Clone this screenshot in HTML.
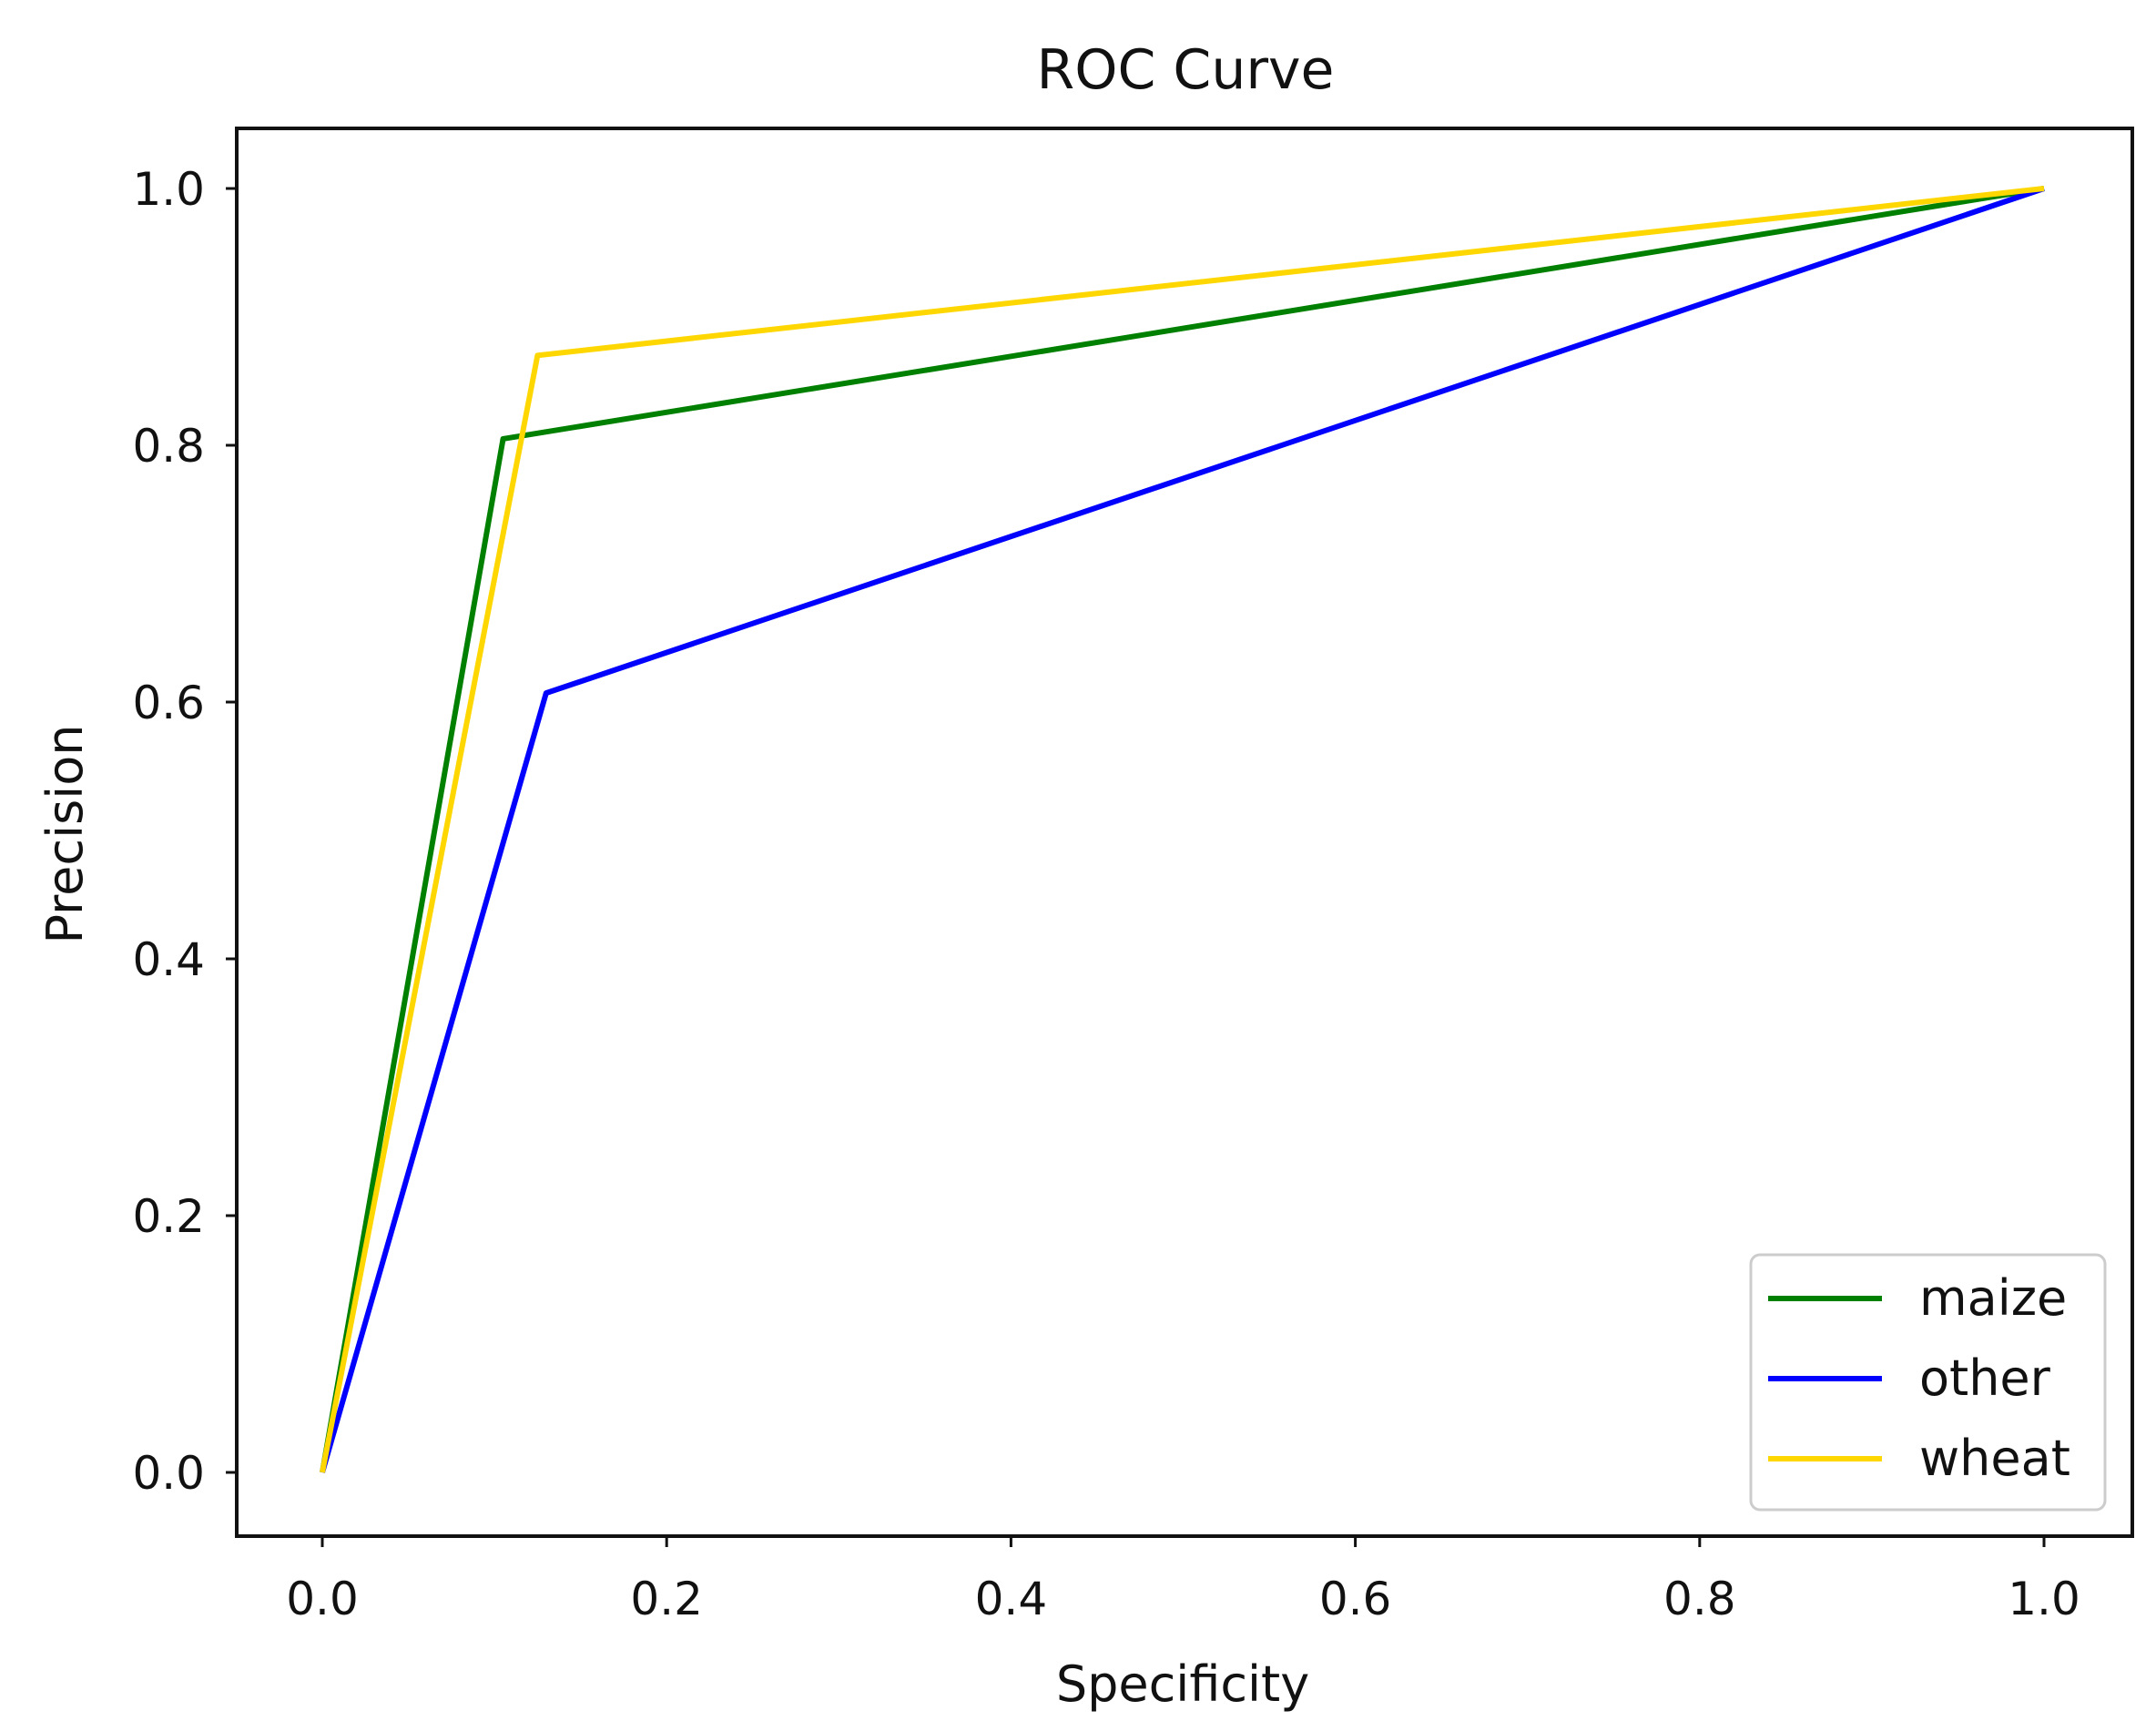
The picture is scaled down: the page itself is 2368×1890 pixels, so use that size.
<!DOCTYPE html>
<html><head><meta charset="utf-8"><style>
html,body{margin:0;padding:0;background:#fff;}
svg text{font-family:"DejaVu Sans","Liberation Sans",sans-serif;fill:#111;}
</style></head><body>
<svg id="chart" width="2368" height="1885" viewBox="0 0 2368 1885" xmlns="http://www.w3.org/2000/svg">
<rect width="2368" height="1885" fill="#fff"/>
<text x="1302" y="97" font-size="60" text-anchor="middle">ROC Curve</text>
<g id="plot"></g>
<rect x="260" y="141" width="2082" height="1546" fill="none" stroke="#111" stroke-width="4"/>
<g id="ticks"></g>
<text x="1299" y="1868" font-size="54" text-anchor="middle">Specificity</text>
<text transform="translate(90,916) rotate(-90)" font-size="54" text-anchor="middle">Precision</text>
<g id="legend">
<rect x="1923" y="1378" width="389" height="280" rx="10" fill="#fff" stroke="#ccc" stroke-width="3"/>
</g>
</svg>
<script>
const series = ['maize','other','wheat'];
const colors = ['#008000','#0000ff','#ffd700'];
const maizeX = [0, 0.105, 1];
const maizeY = [0, 0.805, 1];
const otherX = [0, 0.13, 1];
const otherY = [0, 0.607, 1];
const wheatX = [0, 0.125, 1];
const wheatY = [0, 0.87, 1];
const xTicks = [0, 0.2, 0.4, 0.6, 0.8, 1.0];
const yTicks = [0, 0.2, 0.4, 0.6, 0.8, 1.0];
const xTickLabels = ['0.0','0.2','0.4','0.6','0.8','1.0'];
const yTickLabels = ['0.0','0.2','0.4','0.6','0.8','1.0'];

const NS='http://www.w3.org/2000/svg';
function sx(v){return 354 + v*(2245-354);}
function sy(v){return 1617 - v*(1617-207);}
const plot=document.getElementById('plot');
const xs=[maizeX,otherX,wheatX], ys=[maizeY,otherY,wheatY];
series.forEach((s,i)=>{
  const p=document.createElementNS(NS,'polyline');
  p.setAttribute('points', xs[i].map((x,j)=>sx(x)+','+sy(ys[i][j])).join(' '));
  p.setAttribute('fill','none');
  p.setAttribute('stroke',colors[i]);
  p.setAttribute('stroke-width','6');
  p.setAttribute('stroke-linejoin','round');
  
  
  plot.appendChild(p);
});
const ticks=document.getElementById('ticks');
xTicks.forEach((v,i)=>{
  const l=document.createElementNS(NS,'line');
  l.setAttribute('x1',sx(v));l.setAttribute('x2',sx(v));l.setAttribute('y1',1687);l.setAttribute('y2',1699);
  l.setAttribute('stroke','#111');l.setAttribute('stroke-width','3');
  
  
  ticks.appendChild(l);
  const t=document.createElementNS(NS,'text');
  t.setAttribute('x',sx(v));t.setAttribute('y',1773);t.setAttribute('font-size','50');t.setAttribute('text-anchor','middle');
  t.textContent=xTickLabels[i];
  
  
  ticks.appendChild(t);
});
yTicks.forEach((v,i)=>{
  const l=document.createElementNS(NS,'line');
  l.setAttribute('x1',248);l.setAttribute('x2',260);l.setAttribute('y1',sy(v));l.setAttribute('y2',sy(v));
  l.setAttribute('stroke','#111');l.setAttribute('stroke-width','3');
  
  
  ticks.appendChild(l);
  const t=document.createElementNS(NS,'text');
  t.setAttribute('x',225);t.setAttribute('y',sy(v)+18);t.setAttribute('font-size','50');t.setAttribute('text-anchor','end');
  t.textContent=yTickLabels[i];
  
  
  ticks.appendChild(t);
});
const legend=document.getElementById('legend');
series.forEach((s,i)=>{
  const y=1426+i*88;
  const l=document.createElementNS(NS,'line');
  l.setAttribute('x1',1942);l.setAttribute('x2',2067);l.setAttribute('y1',y);l.setAttribute('y2',y);
  l.setAttribute('stroke',colors[i]);l.setAttribute('stroke-width','6');
  
  
  legend.appendChild(l);
  const t=document.createElementNS(NS,'text');
  t.setAttribute('x',2108);t.setAttribute('y',y+18);t.setAttribute('font-size','54');
  t.textContent=s;
  
  
  legend.appendChild(t);
});
</script>
</body></html>
